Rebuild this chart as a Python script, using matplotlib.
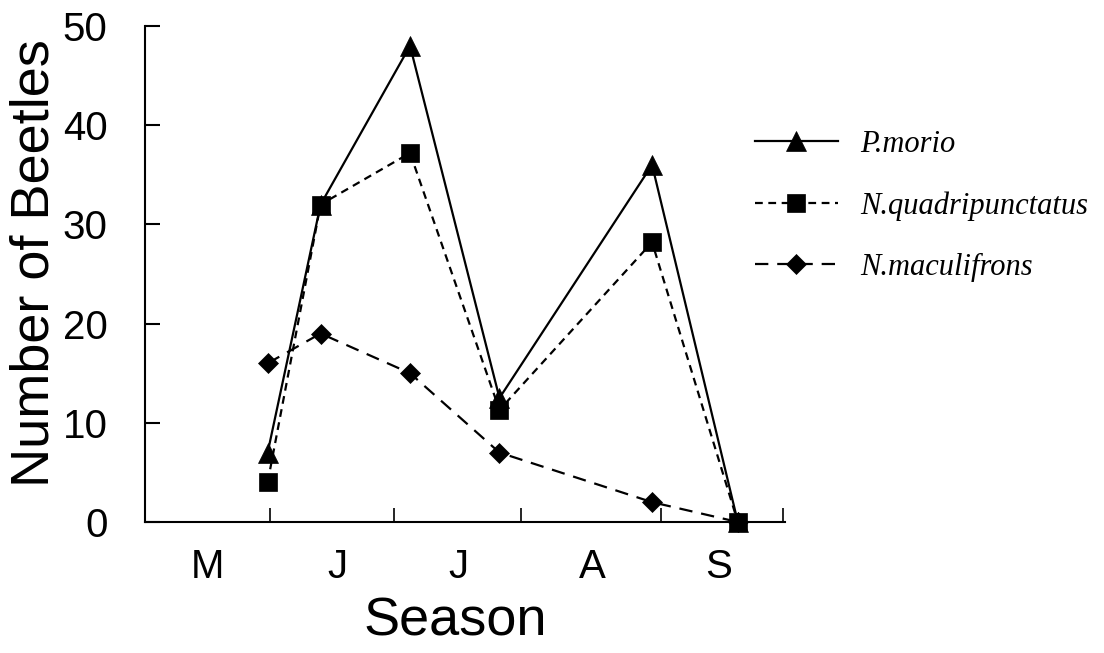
import numpy as np
import matplotlib
matplotlib.use('Agg')
import matplotlib.pyplot as plt

# sampling dates, days counted from 1 May
sample_day = [29.9, 42.8, 64.6, 86.4, 123.6, 144.5]
p_morio = [7, 32, 48, 12.5, 36, 0]
n_quad = [4, 32, 37.2, 11.3, 28.2, 0]
n_macul = [16, 19, 15, 7, 2, 0]

month_edges = [30.5, 60.7, 91.6, 125.8, 155.5]
month_label_pos = [15.1, 46.9, 76.3, 109.0, 139.7]
month_labels = ['M', 'J', 'J', 'A', 'S']
y_ticks = [0, 10, 20, 30, 40, 50]

plt.rcParams['font.family'] = 'Liberation Sans'

fig = plt.figure(figsize=(11.04, 6.53), dpi=100)
W, H = 1104.0, 653.0
ax = fig.add_axes([145 / W, 1 - 522 / H, 640 / W, 496 / H])

lw = 1.6
ax.plot(sample_day, p_morio, color='k', lw=lw, marker='^', ms=14,
        mew=0.5, label='P.morio', clip_on=False, zorder=3)
ax.plot(sample_day, n_quad, color='k', lw=lw, marker='s', ms=12.5,
        mew=0.5, dashes=(3.5, 2.5), label='N.quadripunctatus',
        clip_on=False, zorder=4)
ax.plot(sample_day, n_macul, color='k', lw=lw, marker='D', ms=10.5,
        mew=0.5, dashes=(6, 4), label='N.maculifrons',
        clip_on=False, zorder=5)

ax.set_xlim(0, 156)
ax.set_ylim(0, 50)

for s in ['top', 'right']:
    ax.spines[s].set_visible(False)
for s in ['left', 'bottom']:
    ax.spines[s].set_linewidth(1.5)

ax.set_yticks(y_ticks)
ax.tick_params(axis='y', direction='in', length=11, width=1.5,
               labelsize=29, pad=27)
ax.set_xticks(month_edges)
ax.set_xticklabels([])
ax.tick_params(axis='x', which='major', direction='in', length=10,
               width=1.2)
ax.set_xticks(month_label_pos, minor=True)
ax.set_xticklabels(month_labels, minor=True)
ax.tick_params(axis='x', which='minor', length=0, labelsize=29, pad=19)

fig.text(35 / W, 1 - 263 / H, 'Number of Beetles', rotation=90,
         ha='center', va='center', fontsize=39)
fig.text(455 / W, 1 - 622 / H, 'Season', ha='center', va='center',
         fontsize=39)

fig.legend(loc='upper left', bbox_to_anchor=(755 / W, 1 - 130 / H),
           frameon=False, numpoints=1, handlelength=2.7,
           handletextpad=0.75, labelspacing=1.05, borderpad=0,
           borderaxespad=0,
           prop={'family': 'Liberation Serif', 'style': 'italic',
                 'size': 22})

fig.savefig('out.png', dpi=100)
